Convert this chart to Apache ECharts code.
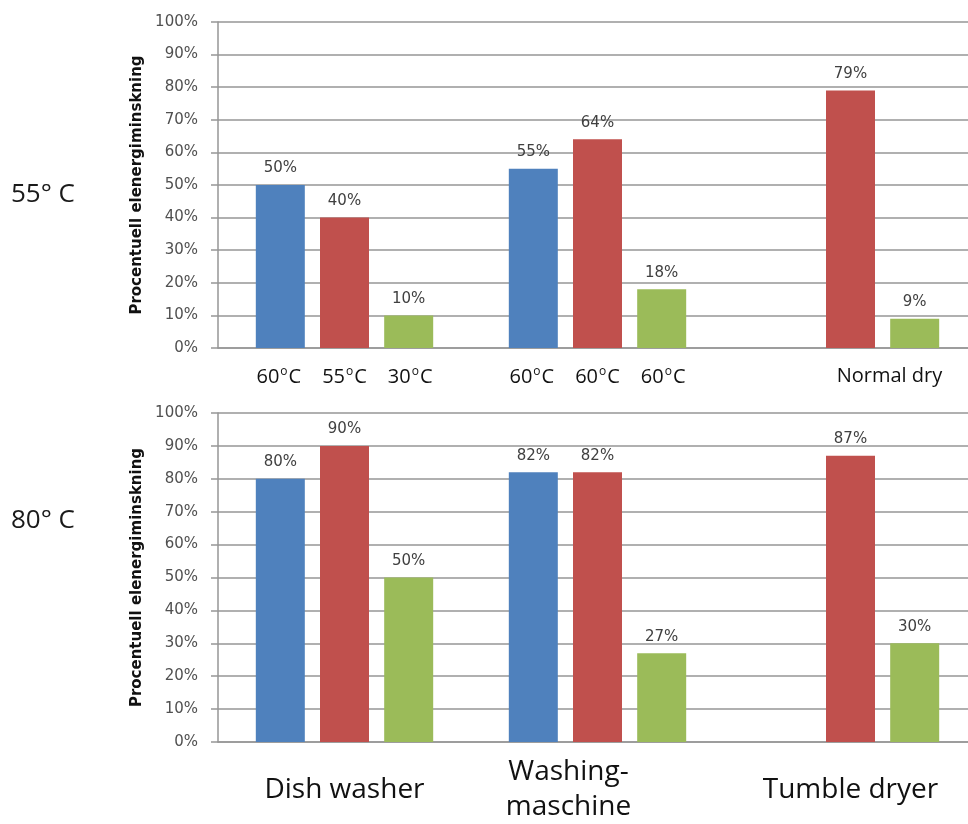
<!DOCTYPE html>
<html>
<head>
<meta charset="utf-8">
<script src="https://cdn.jsdelivr.net/npm/echarts@6/dist/echarts.min.js"></script>
<style>
  html, body { margin: 0; padding: 0; background: #fff; }
  #chart { width: 968px; height: 824px; }
</style>
</head>
<body>
<div id="chart"></div>
<script>
  // kategorier och värden (procent)
  const categories = ['Dish washer', 'Washing-\nmaschine', 'Tumble dryer'];
  const blue55 = [50, 55, '-'];
  const red55 = [40, 64, 79];
  const green55 = [10, 18, 9];
  const blue80 = [80, 82, '-'];
  const red80 = [90, 82, 87];
  const green80 = [50, 27, 30];
  // temperaturer under staplarna i övre diagrammet
  const tempLabels = [['60', '55', '30'], ['60', '60', '60'], []];
  const dryLabel = 'Normal dry';
  const rowLabels = ['55° C', '80° C'];
  const yName = 'Procentuell elenergiminskning';

  const colorArr = ['#4f81bd', '#c0504d', '#9bbb59'];
  const gridColor = '#969696';

  const yAxisBase = {
    type: 'value',
    min: 0,
    max: 100,
    interval: 10,
    name: yName,
    nameLocation: 'middle',
    nameGap: 70,
    nameTextStyle: { fontFamily: 'DejaVu Sans', fontWeight: 'bold', fontSize: 15, color: '#111' },
    axisLine: { show: true, lineStyle: { color: gridColor, width: 1.5 } },
    axisTick: { show: true, length: 7, lineStyle: { color: gridColor, width: 1.5 } },
    axisLabel: { formatter: '{value}%', fontFamily: 'DejaVu Sans', fontSize: 15, color: '#505050', margin: 20 },
    splitLine: { lineStyle: { color: gridColor, width: 1.5 } }
  };

  function bar(name, data, color, idx) {
    return {
      name: name,
      type: 'bar',
      xAxisIndex: idx,
      yAxisIndex: idx,
      data: data,
      barWidth: 49,
      barGap: '31%',
      itemStyle: { color: color },
      label: {
        show: true,
        position: 'top',
        distance: 9,
        formatter: '{c}%',
        fontFamily: 'DejaVu Sans',
        fontSize: 15,
        color: '#404040'
      }
    };
  }

  const labelFont = { fontFamily: 'Open Sans', fontSize: 20, color: '#111' };
  const bigFont = { fontFamily: 'Open Sans', fontSize: 28, color: '#111', lineHeight: 35, verticalAlign: 'middle' };

  const myChart = echarts.init(document.getElementById('chart'));
  const option = {
    backgroundColor: '#fff',
    animation: false,
    graphic: [
      { type: 'text', x: 11, y: 195, style: { text: rowLabels[0], font: '26px "Open Sans"', fill: '#1a1a1a', verticalAlign: 'middle' } },
      { type: 'text', x: 11, y: 521, style: { text: rowLabels[1], font: '26px "Open Sans"', fill: '#1a1a1a', verticalAlign: 'middle' } }
    ],
    grid: [
      { left: 218, top: 22, width: 759, height: 326, outerBoundsMode: 'none' },
      { left: 218, top: 413, width: 759, height: 329, outerBoundsMode: 'none' }
    ],
    xAxis: [{
      type: 'category',
      gridIndex: 0,
      data: categories,
      axisLine: { lineStyle: { color: gridColor, width: 1.5 } },
      axisTick: { show: false },
      axisLabel: {
        interval: 0,
        margin: 18,
        color: '#111',
        fontFamily: 'Open Sans',
        fontSize: 20,
        formatter: function (v, i) {
          if (!tempLabels[i].length) return '{n|' + dryLabel + '}';
          return tempLabels[i].map((t, k) => (k ? '{g|}' : '') + '{d|' + t + '}{s|o}{d|C}').join('');
        },
        rich: {
          d: labelFont,
          s: { fontFamily: 'Open Sans', fontSize: 12, color: '#111', padding: [0, 1, 11, 1] },
          g: { width: 21 },
          n: Object.assign({ padding: [0, 0, 0, 78] }, labelFont)
        }
      }
    }, {
      type: 'category',
      gridIndex: 1,
      data: categories.map((c, i) => i === 1 ? { value: c, textStyle: Object.assign({ padding: [0, 58, 0, 0] }, bigFont) } : c),
      axisLine: { lineStyle: { color: gridColor, width: 1.5 } },
      axisTick: { show: false },
      axisLabel: Object.assign({ interval: 0, margin: 48 }, bigFont)
    }],
    yAxis: [
      Object.assign({ gridIndex: 0 }, yAxisBase),
      Object.assign({ gridIndex: 1 }, yAxisBase)
    ],
    series: [
      bar('b55', blue55, colorArr[0], 0),
      bar('r55', red55, colorArr[1], 0),
      bar('g55', green55, colorArr[2], 0),
      bar('b80', blue80, colorArr[0], 1),
      bar('r80', red80, colorArr[1], 1),
      bar('g80', green80, colorArr[2], 1)
    ]
  };
  myChart.setOption(option);
</script>
</body>
</html>
